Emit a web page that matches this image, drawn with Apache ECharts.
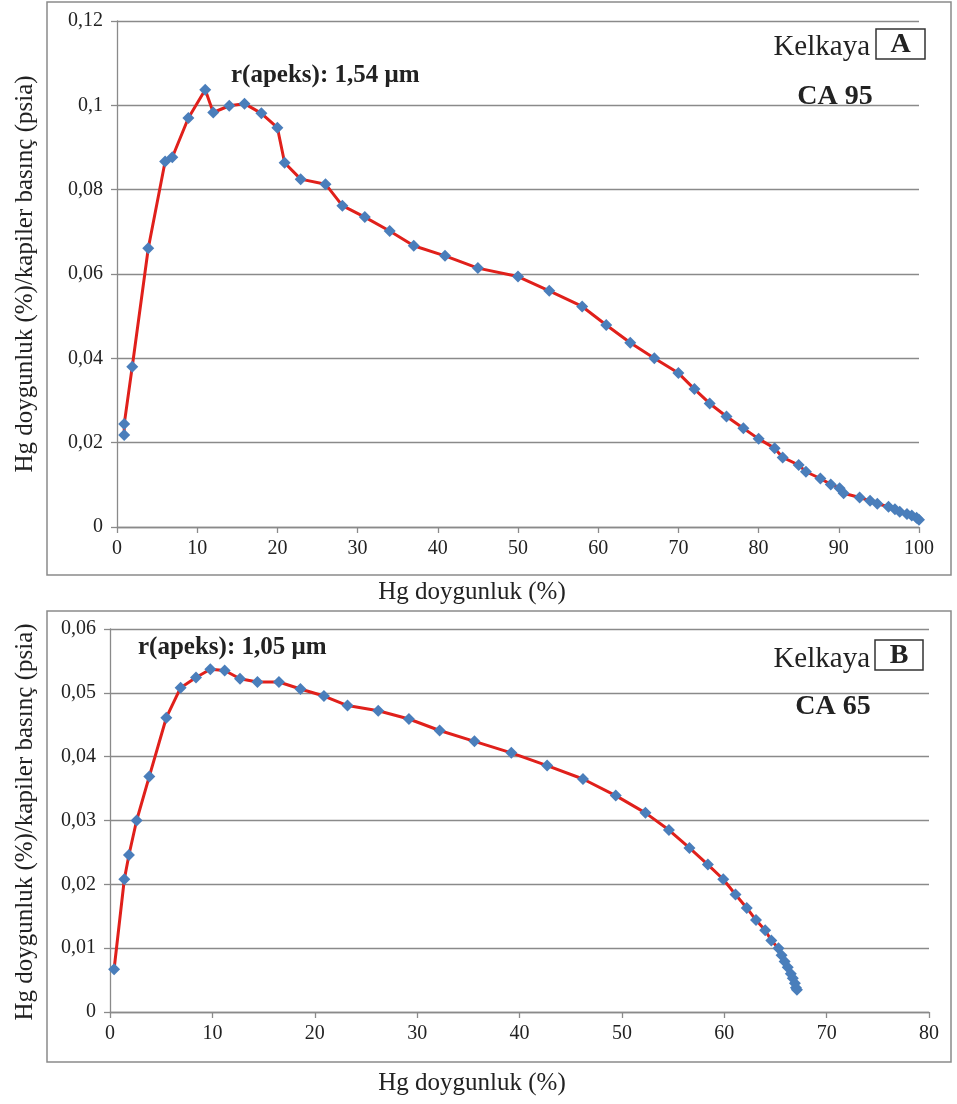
<!DOCTYPE html>
<html>
<head>
<meta charset="utf-8">
<script src="https://cdn.jsdelivr.net/npm/echarts@6/dist/echarts.min.js"></script>
<style>
  html, body { margin: 0; padding: 0; background: #ffffff; }
  #chart { width: 957px; height: 1104px; }
</style>
</head>
<body>
<div id="chart"></div>
<script>
// Sample CA 95 (panel A): Hg saturation (%) and saturation / capillary pressure
const ca95X = [0.9, 0.9, 1.9, 3.9, 6.0, 6.9, 8.9, 11.0, 12.0, 14.0, 15.9, 18.0, 20.0, 20.9,
  22.9, 26.0, 28.1, 30.9, 34.0, 37.0, 40.9, 45.0, 50.0, 53.9, 58.0, 61.0, 64.0, 67.0,
  70.0, 72.0, 73.9, 76.0, 78.1, 80.0, 82.0, 83.0, 85.0, 85.9, 87.7, 89.0, 90.1, 90.6,
  92.6, 93.9, 94.8, 96.2, 97.0, 97.6, 98.5, 99.1, 99.7, 100.0];
const ca95Y = [0.0218, 0.0244, 0.0380, 0.0661, 0.0867, 0.0877, 0.0970, 0.1037, 0.0983, 0.0999,
  0.1004, 0.0981, 0.0947, 0.0864, 0.0825, 0.0813, 0.0762, 0.0735, 0.0702, 0.0667, 0.0643,
  0.0614, 0.0594, 0.0560, 0.0523, 0.0479, 0.0437, 0.0400, 0.0365, 0.0327, 0.0293, 0.0262,
  0.0234, 0.0209, 0.0187, 0.0165, 0.0147, 0.0131, 0.0115, 0.0101, 0.0092, 0.0080, 0.0070,
  0.0062, 0.0055, 0.0048, 0.0042, 0.0036, 0.0031, 0.0027, 0.0022, 0.0017];

// Sample CA 65 (panel B)
const ca65X = [0.4, 1.4, 1.85, 2.6, 3.84, 5.5, 6.9, 8.4, 9.8, 11.2, 12.7, 14.4, 16.5, 18.6,
  20.9, 23.2, 26.2, 29.2, 32.2, 35.6, 39.2, 42.7, 46.2, 49.4, 52.3, 54.6, 56.6, 58.4, 59.9,
  61.1, 62.2, 63.1, 64.0, 64.6, 65.3, 65.6, 65.9, 66.2, 66.5, 66.7, 66.9, 67.0, 67.1];
const ca65Y = [0.0067, 0.0208, 0.0246, 0.0300, 0.0369, 0.0461, 0.0508, 0.0524, 0.0537, 0.0535,
  0.0522, 0.0517, 0.0517, 0.0506, 0.0495, 0.0480, 0.0472, 0.0459, 0.0441, 0.0424, 0.0406,
  0.0386, 0.0365, 0.0339, 0.0312, 0.0285, 0.0257, 0.0231, 0.0208, 0.0184, 0.0163, 0.0144,
  0.0128, 0.0112, 0.0100, 0.0089, 0.0079, 0.0070, 0.0060, 0.0053, 0.0045, 0.0038, 0.0035];

// Axis ranges and text
const axisA = { xMax: 100, xStep: 10, yMax: 0.12, yStep: 0.02 };
const axisB = { xMax: 80, xStep: 10, yMax: 0.06, yStep: 0.01 };
const xTitle = 'Hg doygunluk (%)';
const yTitle = 'Hg doygunluk (%)/kapiler basınç (psia)';
const apexA = 'r(apeks): 1,54 μm';
const apexB = 'r(apeks): 1,05 μm';
const siteName = 'Kelkaya';
const sampleA = 'CA 95';
const sampleB = 'CA 65';

const SERIF = '"Liberation Serif", "Times New Roman", serif';
const GRAY = '#8a8a8a';

function zip(xs, ys) { return xs.map((x, i) => [x, ys[i]]); }
function commaFmt(v) {
  if (v === 0) return '0';
  return String(+v.toFixed(3)).replace('.', ',');
}

function xAxisDef(idx, cfg) {
  return {
    gridIndex: idx, type: 'value', min: 0, max: cfg.xMax, interval: cfg.xStep,
    axisLine: { show: true, onZero: false, lineStyle: { color: GRAY, width: 1.3 } },
    axisTick: { show: true, inside: false, length: 6, lineStyle: { color: GRAY, width: 1.3 } },
    axisLabel: { color: '#222', fontFamily: SERIF, fontSize: 20, margin: 12 },
    splitLine: { show: false }
  };
}
function yAxisDef(idx, cfg) {
  return {
    gridIndex: idx, type: 'value', min: 0, max: cfg.yMax, interval: cfg.yStep,
    axisLine: { show: true, lineStyle: { color: GRAY, width: 1.3 } },
    axisTick: { show: true, inside: false, length: 6, lineStyle: { color: GRAY, width: 1.3 } },
    axisLabel: { color: '#222', fontFamily: SERIF, fontSize: 20, margin: 14, formatter: commaFmt },
    splitLine: { show: true, lineStyle: { color: GRAY, width: 1.3 } }
  };
}
function seriesDef(idx, data) {
  return {
    type: 'line', xAxisIndex: idx, yAxisIndex: idx, data: data,
    symbol: 'diamond', symbolSize: 12, showAllSymbol: true,
    lineStyle: { color: '#e0201b', width: 3 },
    itemStyle: { color: '#4a7ebb' },
    animation: false, z: 3
  };
}
function txt(x, y, text, font, align, valign, rot) {
  return {
    type: 'text', x: x, y: y, rotation: rot || 0, z: 10,
    style: { text: text, font: font, fill: '#222', textAlign: align || 'left', textVerticalAlign: valign || 'middle' }
  };
}
function frame(x, y, w, h, color, lw) {
  return {
    type: 'rect', shape: { x: x, y: y, width: w, height: h }, z: 0,
    style: { fill: 'none', stroke: color, lineWidth: lw }
  };
}

const chart = echarts.init(document.getElementById('chart'), null, { renderer: 'canvas' });
chart.setOption({
  backgroundColor: '#ffffff',
  animation: false,
  grid: [
    { left: 117, top: 21, width: 802, height: 506 },
    { left: 110, top: 629, width: 819, height: 383 }
  ],
  xAxis: [xAxisDef(0, axisA), xAxisDef(1, axisB)],
  yAxis: [yAxisDef(0, axisA), yAxisDef(1, axisB)],
  series: [seriesDef(0, zip(ca95X, ca95Y)), seriesDef(1, zip(ca65X, ca65Y))],
  graphic: [
    frame(47, 2, 904, 573, '#8a8a8a', 1.5),
    frame(47, 611, 904, 451, '#8a8a8a', 1.5),
    // axis titles
    txt(472, 592, xTitle, '25px ' + SERIF, 'center', 'middle'),
    txt(472, 1083, xTitle, '25px ' + SERIF, 'center', 'middle'),
    txt(25, 274, yTitle, '25px ' + SERIF, 'center', 'middle', Math.PI / 2),
    txt(25, 822, yTitle, '25px ' + SERIF, 'center', 'middle', Math.PI / 2),
    // apex annotations
    txt(231, 88, apexA, 'bold 25px ' + SERIF, 'left', 'bottom'),
    txt(138, 660, apexB, 'bold 25px ' + SERIF, 'left', 'bottom'),
    // panel A tag
    txt(870, 62, siteName, '29px ' + SERIF, 'right', 'bottom'),
    frame(876, 29, 49, 30, '#333', 1.5),
    txt(900.5, 45, 'A', 'bold 28px ' + SERIF, 'center', 'middle'),
    txt(835, 97, sampleA, 'bold 28px ' + SERIF, 'center', 'middle'),
    // panel B tag
    txt(870, 674, siteName, '29px ' + SERIF, 'right', 'bottom'),
    frame(875, 640, 48, 30, '#333', 1.5),
    txt(899, 656, 'B', 'bold 28px ' + SERIF, 'center', 'middle'),
    txt(833, 707, sampleB, 'bold 28px ' + SERIF, 'center', 'middle')
  ]
});
</script>
</body>
</html>
